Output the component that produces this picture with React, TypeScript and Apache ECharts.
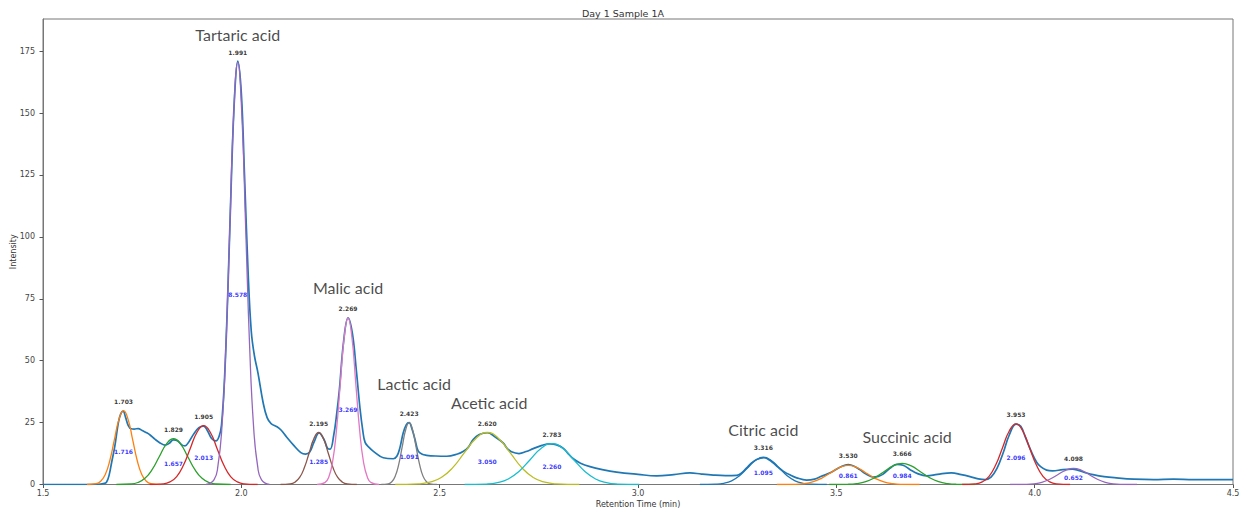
import React, { useEffect, useRef } from "react";
import * as echarts from "echarts";

// ---- data ----
const xTicks = [1.5, 2.0, 2.5, 3.0, 3.5, 4.0, 4.5];
const yTicks = [0, 25, 50, 75, 100, 125, 150, 175];

// measured chromatogram trace [time, intensity]
const trace: number[][] = [
  [1.5, 0], [1.6, 0], [1.64, 0.1], [1.652, 0.4], [1.66, 0.9], [1.667, 4], [1.673, 8.9], [1.681, 15.4], [1.69, 25], [1.696, 28.5],
  [1.702, 29.6], [1.708, 27.2], [1.715, 23.8], [1.722, 22.5], [1.73, 22.4], [1.74, 22.6], [1.75, 21.8], [1.76, 21.0], [1.77, 20.0],
  [1.782, 18.3], [1.795, 16.8], [1.808, 15.9], [1.818, 16.6], [1.829, 18.0], [1.84, 17.6], [1.85, 16.0], [1.858, 15.6], [1.868, 17.3],
  [1.88, 20.4], [1.893, 23.0], [1.905, 23.6], [1.915, 21.6], [1.925, 18.6], [1.936, 17.6], [1.944, 19.5], [1.95, 24], [1.958, 44],
  [1.966, 78], [1.975, 124], [1.983, 157], [1.991, 171], [2.0, 158], [2.008, 125], [2.017, 86], [2.025, 62], [2.033, 52], [2.042, 45],
  [2.055, 33], [2.065, 27], [2.075, 24.6], [2.09, 23.3], [2.1, 22.0], [2.114, 19.2], [2.131, 16.0], [2.15, 12.9], [2.162, 12.3],
  [2.172, 13.0], [2.183, 17.0], [2.196, 20.8], [2.209, 18.0], [2.218, 14.5], [2.224, 14.3], [2.233, 20], [2.24, 28], [2.247, 38],
  [2.258, 58], [2.269, 67.3], [2.28, 61], [2.29, 46], [2.299, 31], [2.306, 22], [2.312, 17], [2.322, 15], [2.333, 13.4], [2.358, 10.8],
  [2.383, 10.4], [2.392, 11.4], [2.4, 15], [2.408, 20.8], [2.416, 24.2], [2.423, 25], [2.43, 22.5], [2.438, 18.1], [2.446, 13.5],
  [2.456, 12.2], [2.467, 11.8], [2.49, 11.5], [2.518, 11.4], [2.545, 12.3], [2.56, 13.4], [2.572, 15.0], [2.585, 18.3], [2.6, 20.2],
  [2.62, 20.9], [2.64, 19.2], [2.66, 16.8], [2.67, 14.6], [2.681, 13.2], [2.7, 12.5], [2.718, 13.3], [2.736, 14.5], [2.758, 15.8],
  [2.778, 16.4], [2.795, 16], [2.812, 14.6], [2.825, 12.3], [2.837, 10.4], [2.855, 8.6], [2.879, 7.2], [2.91, 6.0], [2.946, 5.0],
  [3.0, 4.1], [3.047, 3.5], [3.09, 4.0], [3.131, 4.7], [3.16, 4.2], [3.19, 3.8], [3.22, 3.6], [3.249, 3.7], [3.262, 4.8], [3.274, 6.7],
  [3.287, 8.8], [3.299, 10.1], [3.318, 10.8], [3.33, 10.0], [3.341, 8.7], [3.353, 7.0], [3.366, 5.4], [3.384, 3.8], [3.4, 2.7],
  [3.425, 1.8], [3.445, 2.2], [3.462, 3.3], [3.478, 4.3], [3.492, 5.4], [3.512, 7.2], [3.53, 8.0], [3.545, 7.4], [3.559, 6.0],
  [3.575, 4.2], [3.593, 3.0], [3.606, 3.3], [3.618, 4.2], [3.635, 6.5], [3.652, 8.1], [3.668, 7.8], [3.686, 6.0], [3.705, 4.4],
  [3.727, 3.5], [3.755, 4.1], [3.79, 4.7], [3.815, 4.0], [3.837, 3.2], [3.858, 2.3], [3.875, 2.0], [3.89, 3.0], [3.905, 6.5],
  [3.92, 12.5], [3.936, 20.0], [3.953, 24.4], [3.965, 23.5], [3.978, 18.5], [3.993, 12.8], [4.005, 9.0], [4.015, 7.2], [4.03, 5.8],
  [4.045, 5.5], [4.071, 6.0], [4.095, 6.2], [4.11, 5.7], [4.13, 4.7], [4.147, 4.0], [4.175, 3.2], [4.206, 2.7], [4.25, 2.2],
  [4.3, 2.0], [4.35, 2.2], [4.4, 2.0], [4.45, 2.0], [4.5, 2.0],
];

// fitted peaks, read point by point
const fit1703 = [[1.611, 0], [1.634, 0.33], [1.6455, 1.31], [1.657, 4.03], [1.6685, 9.68], [1.68, 18.08], [1.6915, 26.28], [1.703, 29.8], [1.7145, 26.28], [1.726, 18.08], [1.7375, 9.68], [1.749, 4.03], [1.7605, 1.31], [1.772, 0.33], [1.795, 0]];
const fit1829 = [[1.685, 0], [1.721, 0.2], [1.739, 0.81], [1.757, 2.5], [1.775, 6.01], [1.793, 11.23], [1.811, 16.32], [1.829, 18.5], [1.847, 16.32], [1.865, 11.23], [1.883, 6.01], [1.901, 2.5], [1.919, 0.81], [1.937, 0.2], [1.973, 0]];
const fit1905 = [[1.769, 0], [1.803, 0.26], [1.82, 1.05], [1.837, 3.21], [1.854, 7.74], [1.871, 14.45], [1.888, 20.99], [1.905, 23.8], [1.922, 20.99], [1.939, 14.45], [1.956, 7.74], [1.973, 3.21], [1.99, 1.05], [2.007, 0.26], [2.041, 0]];
const fit1991 = [[1.911, 0], [1.931, 1.88], [1.941, 7.5], [1.951, 23.02], [1.961, 55.41], [1.971, 103.49], [1.981, 150.38], [1.991, 170.5], [2.001, 150.38], [2.011, 103.49], [2.021, 55.41], [2.031, 23.02], [2.041, 7.5], [2.051, 1.88], [2.071, 0]];
const fit2195 = [[2.099, 0], [2.123, 0.23], [2.135, 0.92], [2.147, 2.84], [2.159, 6.83], [2.171, 12.75], [2.183, 18.52], [2.195, 21], [2.207, 18.52], [2.219, 12.75], [2.231, 6.83], [2.243, 2.84], [2.255, 0.92], [2.267, 0.23], [2.291, 0]];
const fit2269 = [[2.191, 0], [2.2105, 0.74], [2.2203, 2.96], [2.23, 9.09], [2.2398, 21.87], [2.2495, 40.85], [2.2593, 59.36], [2.269, 67.3], [2.2788, 59.36], [2.2885, 40.85], [2.2983, 21.87], [2.308, 9.09], [2.3178, 2.96], [2.3275, 0.74], [2.347, 0]];
const fit2423 = [[2.353, 0], [2.3705, 0.28], [2.3793, 1.1], [2.388, 3.38], [2.3968, 8.13], [2.4055, 15.18], [2.4143, 22.05], [2.423, 25], [2.4318, 22.05], [2.4405, 15.18], [2.4493, 8.13], [2.458, 3.38], [2.4668, 1.1], [2.4755, 0.28], [2.493, 0]];
const fit2620 = [[2.388, 0], [2.446, 0.23], [2.475, 0.92], [2.504, 2.84], [2.533, 6.83], [2.562, 12.75], [2.591, 18.52], [2.62, 21], [2.649, 18.52], [2.678, 12.75], [2.707, 6.83], [2.736, 2.84], [2.765, 0.92], [2.794, 0.23], [2.852, 0]];
const fit2783 = [[2.563, 0], [2.618, 0.18], [2.6455, 0.73], [2.673, 2.23], [2.7005, 5.36], [2.728, 10.02], [2.7555, 14.55], [2.783, 16.5], [2.8105, 14.55], [2.838, 10.02], [2.8655, 5.36], [2.893, 2.23], [2.9205, 0.73], [2.948, 0.18], [3.003, 0]];
const fit3316 = [[3.156, 0], [3.196, 0.12], [3.216, 0.48], [3.236, 1.49], [3.256, 3.57], [3.276, 6.68], [3.296, 9.7], [3.316, 11], [3.336, 9.7], [3.356, 6.68], [3.376, 3.57], [3.396, 1.49], [3.416, 0.48], [3.436, 0.12], [3.476, 0]];
const fit3530 = [[3.35, 0], [3.395, 0.08], [3.4175, 0.34], [3.44, 1.04], [3.4625, 2.5], [3.485, 4.67], [3.5075, 6.79], [3.53, 7.7], [3.5525, 6.79], [3.575, 4.67], [3.5975, 2.5], [3.62, 1.04], [3.6425, 0.34], [3.665, 0.08], [3.71, 0]];
const fit3666 = [[3.482, 0], [3.528, 0.09], [3.551, 0.37], [3.574, 1.15], [3.597, 2.76], [3.62, 5.16], [3.643, 7.5], [3.666, 8.5], [3.689, 7.5], [3.712, 5.16], [3.735, 2.76], [3.758, 1.15], [3.781, 0.37], [3.804, 0.09], [3.85, 0]];
const fit3953 = [[3.817, 0], [3.851, 0.27], [3.868, 1.08], [3.885, 3.31], [3.902, 7.96], [3.919, 14.87], [3.936, 21.61], [3.953, 24.5], [3.97, 21.61], [3.987, 14.87], [4.004, 7.96], [4.021, 3.31], [4.038, 1.08], [4.055, 0.27], [4.089, 0]];
const fit4098 = [[3.938, 0], [3.978, 0.07], [3.998, 0.29], [4.018, 0.88], [4.038, 2.11], [4.058, 3.95], [4.078, 5.73], [4.098, 6.5], [4.118, 5.73], [4.138, 3.95], [4.158, 2.11], [4.178, 0.88], [4.198, 0.29], [4.218, 0.07], [4.258, 0]];

const fits = [fit1703, fit1829, fit1905, fit1991, fit2195, fit2269, fit2423, fit2620, fit2783, fit3316, fit3530, fit3666, fit3953, fit4098];
const peakTimes = [1.703, 1.829, 1.905, 1.991, 2.195, 2.269, 2.423, 2.62, 2.783, 3.316, 3.53, 3.666, 3.953, 4.098];
const peakHeights = [29.8, 18.5, 23.8, 170.5, 21, 67.3, 25, 21, 16.5, 11, 7.7, 8.5, 24.5, 6.5];
const peakAreas = [1.716, 1.657, 2.013, 8.578, 1.285, 3.269, 1.091, 3.05, 2.26, 1.095, 0.861, 0.984, 2.096, 0.652];

const compoundNames = ["Tartaric acid", "Malic acid", "Lactic acid", "Acetic acid", "Citric acid", "Succinic acid"];
const compoundPeakIndex = [3, 5, 6, 7, 9, 11];

// ---- styles ----
const fitColors = ["#ff7f0e", "#2ca02c", "#d62728", "#9467bd", "#8c564b", "#e377c2", "#7f7f7f", "#bcbd22", "#17becf", "#1f77b4", "#ff7f0e", "#2ca02c", "#d62728", "#9467bd"];
const nameOffsets: Record<string, { dx: number; dist: number }> = {
  "Tartaric acid": { dx: 0, dist: 19 },
  "Malic acid": { dx: 0, dist: 22 },
  "Lactic acid": { dx: 5, dist: 31 },
  "Acetic acid": { dx: 2, dist: 22 },
  "Citric acid": { dx: 0, dist: 19 },
  "Succinic acid": { dx: 5, dist: 18 },
};

const FONT = "DejaVu Sans";

export default function App() {
  const ref = useRef<HTMLDivElement>(null);
  useEffect(() => {
    document.body.style.margin = "0";
    if (!ref.current) return;
    const chart = echarts.init(ref.current, undefined, { renderer: "svg" });

    const series: any[] = [
      {
        type: "line",
        data: trace,
        symbol: "none",
        smooth: 0.4,
        lineStyle: { color: "#1f77b4", width: 1.7 },
        z: 2,
        silent: true,
      },
      ...fits.map((pts, i) => ({
        type: "line",
        data: pts,
        symbol: "none",
        smooth: 0.5,
        lineStyle: { color: fitColors[i], width: 1.3 },
        z: 3,
        silent: true,
      })),
      {
        type: "scatter",
        silent: true,
        symbolSize: 1,
        itemStyle: { color: "transparent" },
        z: 5,
        data: peakTimes.map((t, i) => ({
          value: [t, peakHeights[i]],
          label: {
            show: true,
            position: "top",
            distance: 6,
            formatter: t.toFixed(3),
            fontFamily: FONT,
            fontSize: 6,
            fontWeight: "bold",
            color: "#000",
          },
        })),
      },
      {
        type: "scatter",
        silent: true,
        symbolSize: 1,
        itemStyle: { color: "transparent" },
        z: 5,
        data: peakTimes.map((t, i) => ({
          value: [t, peakHeights[i] * 0.45],
          label: {
            show: true,
            position: "inside",
            formatter: peakAreas[i].toFixed(3),
            fontFamily: FONT,
            fontSize: 6,
            fontWeight: "bold",
            color: "#0000ff",
          },
        })),
      },
      {
        type: "scatter",
        silent: true,
        symbolSize: 1,
        itemStyle: { color: "transparent" },
        z: 5,
        data: compoundNames.map((n, k) => {
          const i = compoundPeakIndex[k];
          const o = nameOffsets[n];
          return {
            value: [peakTimes[i], peakHeights[i]],
            label: {
              show: true,
              position: "top",
              distance: o.dist,
              offset: [o.dx, 0],
              formatter: n,
              fontFamily: "Lato",
              fontSize: 16,
              color: "#1a1a1a",
            },
          };
        }),
      },
    ];

    chart.setOption({
      animation: false,
      backgroundColor: "#fff",
      title: {
        text: "Day 1 Sample 1A",
        left: "center",
        top: 3,
        textStyle: { fontFamily: FONT, fontSize: 9.5, fontWeight: "normal", color: "#333" },
      },
      grid: {
        left: 43,
        right: 13,
        top: 19,
        bottom: 29.5,
        show: true,
        borderColor: "#777",
        borderWidth: 1,
        containLabel: false,
        outerBoundsMode: "none",
      },
      xAxis: {
        type: "value",
        min: 1.5,
        max: 4.5,
        interval: 0.5,
        name: "Retention Time (min)",
        nameLocation: "middle",
        nameGap: 16,
        nameMoveOverlap: false,
        nameTextStyle: { fontFamily: FONT, fontSize: 8, color: "#333" },
        axisLine: { show: true, onZero: false, lineStyle: { color: "#777" } },
        axisTick: { show: true, inside: false, length: 3.5, lineStyle: { color: "#555" }, customValues: xTicks },
        axisLabel: {
          fontFamily: FONT,
          fontSize: 8,
          color: "#444",
          margin: 5,
          customValues: xTicks,
          formatter: (v: number) => v.toFixed(1),
        },
        splitLine: { show: false },
      },
      yAxis: {
        type: "value",
        min: 0,
        max: 188,
        name: "Intensity",
        nameLocation: "middle",
        nameGap: 26,
        nameMoveOverlap: false,
        nameTextStyle: { fontFamily: FONT, fontSize: 8, color: "#333" },
        axisLine: { show: true, lineStyle: { color: "#777" } },
        axisTick: { show: true, inside: false, length: 3.5, lineStyle: { color: "#555" }, customValues: yTicks },
        axisLabel: { fontFamily: FONT, fontSize: 8, color: "#444", margin: 8, customValues: yTicks },
        splitLine: { show: false },
      },
      series,
    });
    return () => chart.dispose();
  }, []);
  return <div ref={ref} style={{ width: 1246, height: 514 }} />;
}
